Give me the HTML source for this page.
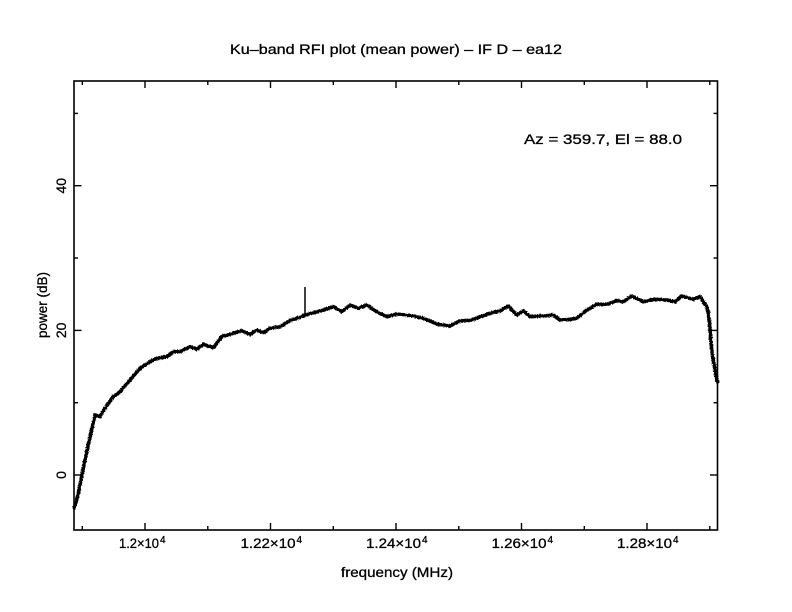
<!DOCTYPE html>
<html>
<head>
<meta charset="utf-8">
<style>
  html, body { margin:0; padding:0; background:#fff; }
  svg { display:block; }
  text { font-family: "Liberation Sans", "DejaVu Sans", sans-serif; fill:#000; stroke:#000; stroke-width:0.3; }
</style>
</head>
<body>
<svg width="792" height="612" viewBox="0 0 792 612" xmlns="http://www.w3.org/2000/svg">
  <defs>
    <filter id="rough" x="-2%" y="-10%" width="104%" height="120%">
      <feTurbulence type="fractalNoise" baseFrequency="0.8" numOctaves="1" seed="4" result="n"/>
      <feDisplacementMap in="SourceGraphic" in2="n" scale="3" xChannelSelector="R" yChannelSelector="G"/>
    </filter>
  </defs>
  <rect x="0" y="0" width="792" height="612" fill="#fff"/>

  <!-- Title -->
  <text x="230" y="54" font-size="14" textLength="332" lengthAdjust="spacingAndGlyphs">Ku–band RFI plot (mean power) – IF D – ea12</text>

  <!-- Axes box -->
  <rect x="74" y="81" width="643.5" height="449" fill="none" stroke="#000" stroke-width="1.6"/>

  <g stroke="#000" stroke-width="1.4">
    <line x1="145" y1="530" x2="145" y2="523"/><line x1="145" y1="81" x2="145" y2="88"/>
    <line x1="270.5" y1="530" x2="270.5" y2="523"/><line x1="270.5" y1="81" x2="270.5" y2="88"/>
    <line x1="396" y1="530" x2="396" y2="523"/><line x1="396" y1="81" x2="396" y2="88"/>
    <line x1="521.5" y1="530" x2="521.5" y2="523"/><line x1="521.5" y1="81" x2="521.5" y2="88"/>
    <line x1="647" y1="530" x2="647" y2="523"/><line x1="647" y1="81" x2="647" y2="88"/>
    <line x1="82.3" y1="530" x2="82.3" y2="526"/><line x1="82.3" y1="81" x2="82.3" y2="85"/>
    <line x1="207.8" y1="530" x2="207.8" y2="526"/><line x1="207.8" y1="81" x2="207.8" y2="85"/>
    <line x1="333.3" y1="530" x2="333.3" y2="526"/><line x1="333.3" y1="81" x2="333.3" y2="85"/>
    <line x1="458.8" y1="530" x2="458.8" y2="526"/><line x1="458.8" y1="81" x2="458.8" y2="85"/>
    <line x1="584.3" y1="530" x2="584.3" y2="526"/><line x1="584.3" y1="81" x2="584.3" y2="85"/>
    <line x1="709.8" y1="530" x2="709.8" y2="526"/><line x1="709.8" y1="81" x2="709.8" y2="85"/>
    <line x1="74" y1="475" x2="81.5" y2="475"/><line x1="717.5" y1="475" x2="710" y2="475"/>
    <line x1="74" y1="330.4" x2="81.5" y2="330.4"/><line x1="717.5" y1="330.4" x2="710" y2="330.4"/>
    <line x1="74" y1="185.7" x2="81.5" y2="185.7"/><line x1="717.5" y1="185.7" x2="710" y2="185.7"/>
    <line x1="74" y1="402.7" x2="78" y2="402.7"/><line x1="717.5" y1="402.7" x2="713.5" y2="402.7"/>
    <line x1="74" y1="258" x2="78" y2="258"/><line x1="717.5" y1="258" x2="713.5" y2="258"/>
    <line x1="74" y1="113.4" x2="78" y2="113.4"/><line x1="717.5" y1="113.4" x2="713.5" y2="113.4"/>
  </g>

  <!-- X tick labels -->
  <text x="119" y="548" font-size="14" textLength="40" lengthAdjust="spacingAndGlyphs">1.2×10</text>
  <text x="160" y="543" font-size="10">4</text>
  <text x="240.5" y="548" font-size="14" textLength="55" lengthAdjust="spacingAndGlyphs">1.22×10</text>
  <text x="296.5" y="543" font-size="10">4</text>
  <text x="366" y="548" font-size="14" textLength="55" lengthAdjust="spacingAndGlyphs">1.24×10</text>
  <text x="422" y="543" font-size="10">4</text>
  <text x="491.5" y="548" font-size="14" textLength="55" lengthAdjust="spacingAndGlyphs">1.26×10</text>
  <text x="547.5" y="543" font-size="10">4</text>
  <text x="617" y="548" font-size="14" textLength="55" lengthAdjust="spacingAndGlyphs">1.28×10</text>
  <text x="673" y="543" font-size="10">4</text>

  <!-- Y tick labels -->
  <text transform="translate(66,475) rotate(-90)" text-anchor="middle" font-size="14">0</text>
  <text transform="translate(66,330.4) rotate(-90)" text-anchor="middle" font-size="14">20</text>
  <text transform="translate(66,185.7) rotate(-90)" text-anchor="middle" font-size="14">40</text>

  <!-- Axis labels -->
  <text x="341" y="577" font-size="14" textLength="112" lengthAdjust="spacingAndGlyphs">frequency (MHz)</text>
  <text transform="translate(47,305) rotate(-90)" text-anchor="middle" font-size="14" textLength="66" lengthAdjust="spacingAndGlyphs">power (dB)</text>

  <!-- Annotation -->
  <text x="524" y="144" font-size="14" textLength="158" lengthAdjust="spacingAndGlyphs">Az = 359.7, El = 88.0</text>

  <!-- Data curve -->
  <g filter="url(#rough)">
  <polyline fill="none" stroke="#000" stroke-width="3.6" stroke-linejoin="round" stroke-linecap="round"
    points="74,508.3 76.7,500 80,485 85,460 90,437 95,415 100,416.7 105,408 113.3,396.7 120,391.7 130,380 140,368.3 150,361.7 156.7,358.3 166.7,356.7 173.3,351.7 180,351.7 190,346.7 196.7,349.3 203.3,344.3 213.3,347.7 221.7,336.7 233.3,333.3 241.7,330.7 250,334.3 256.7,330 263.3,332.7 270,328.3 280,326.7 290,320.7 300,317.3 305,315 320,311 333.3,306.7 341.7,311.7 350,305 358.3,308.3 366.7,305 376.7,311.7 386.7,316.7 396.7,314 413.3,316 423.3,318.3 436.7,324 450,326 460,321 471.7,320 480,316.7 490,313.3 500,311 508.3,306 516.7,315 523.3,310.7 530,316.7 543.3,316 553.3,315 560,320 570,319.3 576.7,318.3 586.7,310 596.7,304.3 606.7,304.3 616.7,300.7 623.3,301.7 631.7,296 643.3,301.7 653.3,299.3 666.7,300 675,301.7 681.7,296 693.3,299.3 700,296.7 703.3,301.7 706.7,306.7 708.3,313.3 710,330 711.7,350 715,370 717.5,382"/>
  </g>
  <!-- RFI spike -->
  <line x1="305" y1="287" x2="305" y2="315" stroke="#000" stroke-width="1.5"/>
</svg>
</body>
</html>
